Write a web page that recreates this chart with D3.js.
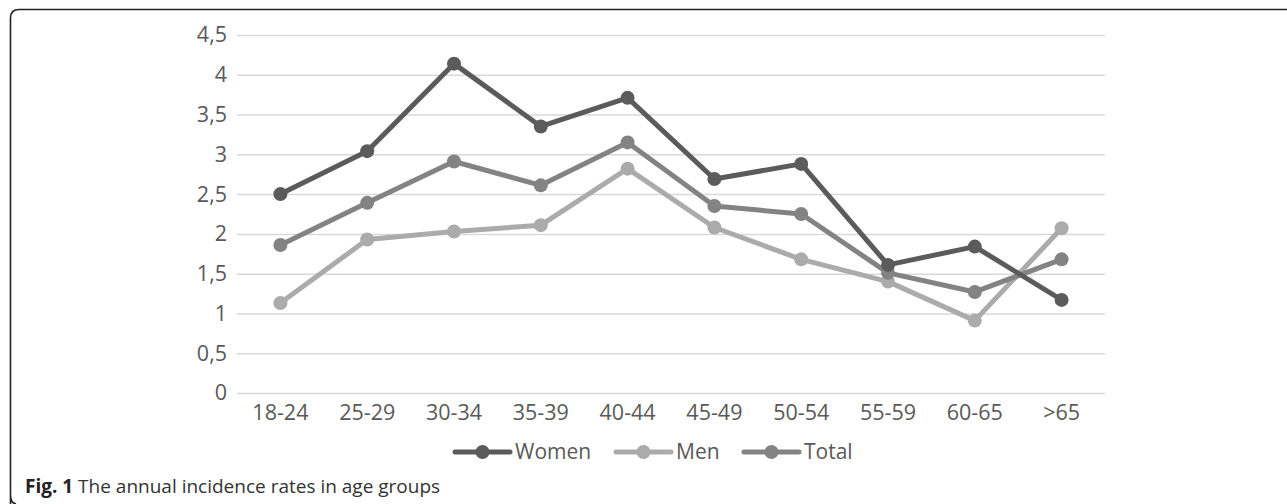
<!DOCTYPE html>
<html>
<head>
<meta charset="utf-8">
<script src="https://cdn.jsdelivr.net/npm/d3@7"></script>
<style>
  html, body { margin: 0; padding: 0; background: #fff; }
  svg { display: block; }
</style>
</head>
<body>
<svg id="chart" width="1287" height="504"></svg>
<script>
// Age groups on the category axis
const ageGroups = ["18-24", "25-29", "30-34", "35-39", "40-44", "45-49", "50-54", "55-59", "60-65", ">65"];

// Annual incidence rates per age group
const women = [2.5, 3.04, 4.14, 3.35, 3.71, 2.69, 2.88, 1.61, 1.84, 1.17];
const men   = [1.13, 1.93, 2.03, 2.11, 2.82, 2.08, 1.68, 1.40, 0.91, 2.07];
const total = [1.86, 2.39, 2.91, 2.61, 3.15, 2.35, 2.25, 1.51, 1.27, 1.68];

// Value-axis tick values and their labels (decimal comma)
const yTicks = [0, 0.5, 1, 1.5, 2, 2.5, 3, 3.5, 4, 4.5];
const yTickLabels = ["0", "0,5", "1", "1,5", "2", "2,5", "3", "3,5", "4", "4,5"];

const seriesNames = ["Women", "Men", "Total"];
const seriesValues = [women, men, total];
const seriesColors = ["#5b5b5b", "#ababab", "#838383"];

const svg = d3.select("#chart");
const font = "'Open Sans', 'Noto Sans', sans-serif";

// Figure frame: rounded left/top edge running off the right and bottom
svg.append("path")
  .attr("d", "M10.5,510 L10.5,495 Q10.5,503 16,504 M10.5,495 L10.5,18 Q10.5,9.5 19,9.5 L1290,9.5")
  .attr("fill", "none")
  .attr("stroke", "#222")
  .attr("stroke-width", 1.6);

const plot = { left: 237, right: 1105, top: 35, bottom: 393 };

const x = d3.scaleBand()
  .domain(ageGroups)
  .range([plot.left, plot.right]);

const y = d3.scaleLinear()
  .domain([0, 4.5])
  .range([plot.bottom, plot.top]);

// Horizontal gridlines with the value labels
const yAxis = d3.axisLeft(y)
  .tickValues(yTicks)
  .tickFormat((d, i) => yTickLabels[i])
  .tickSize(-(plot.right - plot.left))
  .tickPadding(10);

const gy = svg.append("g")
  .attr("transform", `translate(${plot.left},0)`)
  .call(yAxis);
gy.select(".domain").remove();
gy.selectAll(".tick line").attr("stroke", "#d9d9d9").attr("stroke-width", 1.5);
gy.selectAll(".tick text")
  .attr("fill", "#595959")
  .style("font-family", font)
  .style("font-size", "21.5px");

// Category labels under the plot
const xAxis = d3.axisBottom(x).tickSize(0).tickPadding(12);
const gx = svg.append("g")
  .attr("transform", `translate(0,${plot.bottom})`)
  .call(xAxis);
gx.select(".domain").remove();
gx.selectAll(".tick text")
  .attr("fill", "#595959")
  .style("font-family", font)
  .style("font-size", "21.5px");

// Series lines with round markers
const line = d3.line()
  .x((d, i) => x(ageGroups[i]) + x.bandwidth() / 2)
  .y(d => y(d));

const drawOrder = [1, 2, 0];
drawOrder.forEach(k => {
  const g = svg.append("g").attr("class", "series");
  g.append("path")
    .datum(seriesValues[k])
    .attr("d", line)
    .attr("fill", "none")
    .attr("stroke", seriesColors[k])
    .attr("stroke-width", 5)
    .attr("stroke-linejoin", "round")
    .attr("stroke-linecap", "round");
  g.selectAll("circle")
    .data(seriesValues[k])
    .join("circle")
    .attr("cx", (d, i) => x(ageGroups[i]) + x.bandwidth() / 2)
    .attr("cy", d => y(d))
    .attr("r", 7)
    .attr("fill", seriesColors[k]);
});

// Legend
const legendX = [455, 616, 744];
const legendY = 452;
seriesNames.forEach((name, k) => {
  const g = svg.append("g").attr("transform", `translate(${legendX[k]},${legendY})`);
  g.append("line")
    .attr("x1", 0).attr("x2", 55)
    .attr("y1", 0).attr("y2", 0)
    .attr("stroke", seriesColors[k])
    .attr("stroke-width", 5)
    .attr("stroke-linecap", "round");
  g.append("circle")
    .attr("cx", 27.5).attr("cy", 0).attr("r", 7)
    .attr("fill", seriesColors[k]);
  g.append("text")
    .attr("x", 60).attr("y", 0)
    .attr("dy", "0.35em")
    .attr("fill", "#595959")
    .style("font-family", font)
    .style("font-size", "21px")
    .text(name);
});

// Caption
const caption = svg.append("text")
  .attr("x", 25).attr("y", 493)
  .style("font-family", font)
  .style("font-size", "19px")
  .attr("fill", "#333");
caption.append("tspan").attr("font-weight", "bold").attr("fill", "#222").text("Fig. 1");
caption.append("tspan").text(" The annual incidence rates in age groups");
</script>
</body>
</html>
